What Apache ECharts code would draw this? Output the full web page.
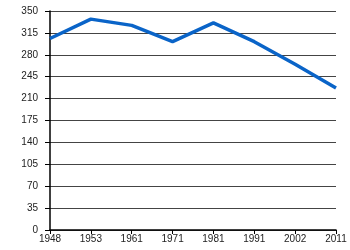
<!DOCTYPE html>
<html><head><meta charset="utf-8">
<script src="https://cdn.jsdelivr.net/npm/echarts@6/dist/echarts.min.js"></script>
<style>html,body{margin:0;padding:0;background:#fff}#c{width:350px;height:250px}</style>
</head><body><div id="c"></div>
<script>
const years = ['1948','1953','1961','1971','1981','1991','2002','2011'];
const values = [306, 337, 327, 301, 331, 301, 265, 227];
const yMin = 0, yMax = 350, yStep = 35;

const chart = echarts.init(document.getElementById('c'), null, {renderer:'canvas'});
chart.setOption({
  animation: false,
  backgroundColor: '#fff',
  grid: {left: 50, right: 14, top: 11, bottom: 20, containLabel: false},
  xAxis: {
    type: 'category', data: years, boundaryGap: false,
    axisLine: {lineStyle: {color: '#000', width: 1.5}},
    axisTick: {show: true, length: 4, lineStyle: {color: '#000'}},
    axisLabel: {color: '#222', fontSize: 10, fontFamily: 'Liberation Sans, Arial', margin: 4},
    splitLine: {show: false}
  },
  yAxis: {
    type: 'value', min: yMin, max: yMax, interval: yStep,
    axisLine: {show: true, lineStyle: {color: '#000', width: 1.5}},
    axisTick: {show: true, length: 5, lineStyle: {color: '#000'}},
    axisLabel: {color: '#222', fontSize: 10, fontFamily: 'Liberation Sans, Arial', margin: 12},
    splitLine: {show: true, lineStyle: {color: '#444', width: 1}}
  },
  series: [{
    type: 'line', data: values, symbol: 'none',
    lineStyle: {color: '#0a64c8', width: 3.5},
    itemStyle: {color: '#0a64c8'}
  }]
});
</script></body></html>
